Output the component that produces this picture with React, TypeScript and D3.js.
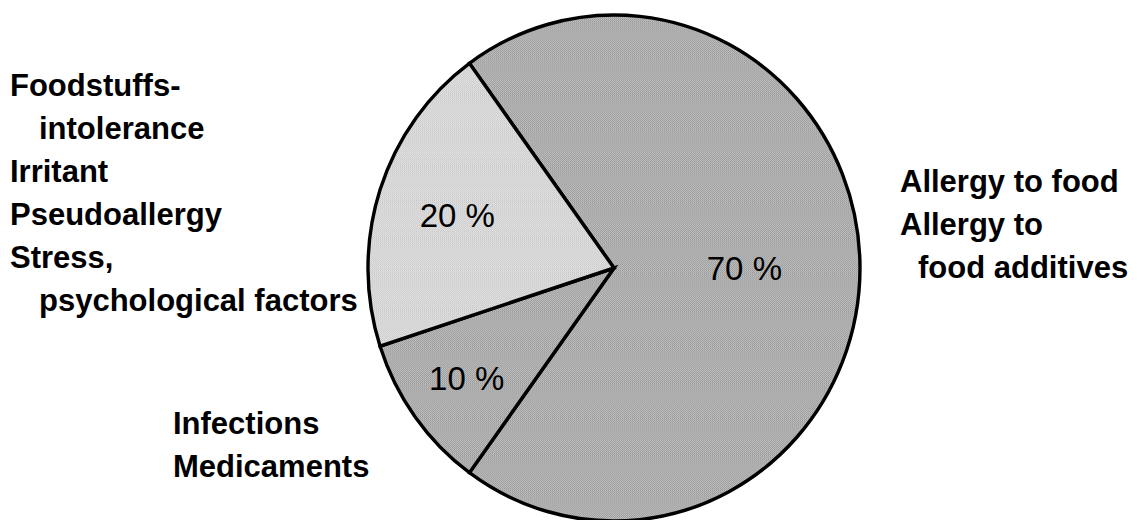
import React from "react";
import * as d3 from "d3";

const categories = ["Allergy", "Infections", "Intolerance"];
const values = [70, 10, 20];
const sliceLabels = ["70 %", "10 %", "20 %"];

const leftLabelLines = [
  "Foodstuffs-",
  "intolerance",
  "Irritant",
  "Pseudoallergy",
  "Stress,",
  "psychological factors",
];
const leftLabelIndent = [false, true, false, false, false, true];
const rightLabelLines = ["Allergy to food", "Allergy to", "food additives"];
const rightLabelIndent = [false, false, true];
const bottomLabelLines = ["Infections", "Medicaments"];

const W = 1137;
const H = 520;
const CX = 614;
const CY = 268;
const RX = 246;
const RY = 253;
const START_DEG = -36;
const labelK = [0.53, 0.74, 0.67];
const fills = ["url(#ditherDark)", "url(#ditherDark)", "url(#ditherLight)"];
const LINE = 43;

export default function App() {
  const pie = d3
    .pie<number>()
    .sort(null)
    .value((d) => d)
    .startAngle((START_DEG * Math.PI) / 180)
    .endAngle((START_DEG * Math.PI) / 180 + 2 * Math.PI);
  const arcs = pie(values);
  const arc = d3.arc<d3.PieArcDatum<number>>().innerRadius(0).outerRadius(RX);

  const font = "'Liberation Sans', Arial, Helvetica, sans-serif";

  return (
    <svg
      width={W}
      height={H}
      style={{ position: "absolute", left: 0, top: 0, display: "block", background: "#fff" }}
    >
      <defs>
        <pattern id="ditherDark" width="2" height="2" patternUnits="userSpaceOnUse">
          <rect width="2" height="2" fill="#c0c0c0" />
          <rect width="1" height="1" fill="#969696" />
          <rect x="1" y="1" width="1" height="1" fill="#a0a0a0" />
        </pattern>
        <pattern id="ditherLight" width="2" height="2" patternUnits="userSpaceOnUse">
          <rect width="2" height="2" fill="#e4e4e4" />
          <rect width="1" height="1" fill="#c4c4c4" />
          <rect x="1" y="1" width="1" height="1" fill="#cecece" />
        </pattern>
      </defs>
      <g transform={`translate(${CX},${CY}) scale(1,${RY / RX})`}>
        {arcs.map((a, i) => (
          <path
            key={categories[i]}
            d={arc(a) || ""}
            fill={fills[i]}
            stroke="#000"
            strokeWidth={3.4}
            strokeLinejoin="miter"
          />
        ))}
      </g>
      {arcs.map((a, i) => {
        const mid = (a.startAngle + a.endAngle) / 2;
        const x = CX + Math.sin(mid) * labelK[i] * RX;
        const y = CY - Math.cos(mid) * labelK[i] * RY;
        return (
          <text
            key={"l" + i}
            x={x}
            y={y}
            dy="0.36em"
            textAnchor="middle"
            fontFamily={font}
            fontSize={33}
            fill="#000"
          >
            {sliceLabels[i]}
          </text>
        );
      })}
      <g fontFamily={font} fontSize={31} fontWeight="bold" fill="#000">
        {leftLabelLines.map((t, i) => (
          <text key={"L" + i} x={leftLabelIndent[i] ? 39 : 10} y={96 + i * LINE}>
            {t}
          </text>
        ))}
        {rightLabelLines.map((t, i) => (
          <text key={"R" + i} x={rightLabelIndent[i] ? 918 : 900} y={192 + i * LINE}>
            {t}
          </text>
        ))}
        {bottomLabelLines.map((t, i) => (
          <text key={"B" + i} x={173} y={434 + i * LINE}>
            {t}
          </text>
        ))}
      </g>
    </svg>
  );
}
